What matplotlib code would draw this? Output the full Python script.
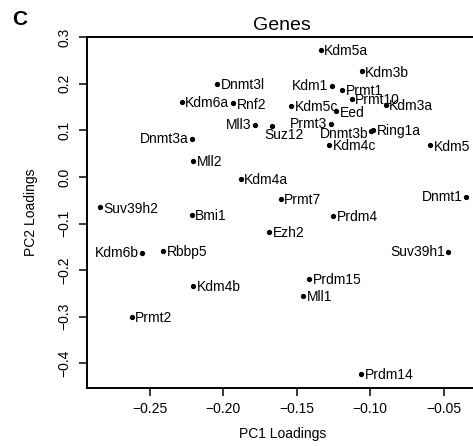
import numpy as np
import matplotlib
matplotlib.use("Agg")
import matplotlib.pyplot as plt

plt.rcParams['font.family'] = ['Liberation Sans', 'DejaVu Sans']

# PCA loadings
genes = ["Kdm5a", "Kdm3b", "Dnmt3l", "Kdm1", "Prmt1", "Prmt10", "Kdm6a", "Rnf2",
         "Kdm5c", "Eed", "Kdm3a", "Prmt3", "Mll3", "Suz12", "Dnmt3b", "Ring1a",
         "Dnmt3a", "Kdm4c", "Kdm5", "Mll2", "Kdm4a", "Dnmt1", "Suv39h2", "Prmt7",
         "Bmi1", "Prdm4", "Ezh2", "Suv39h1", "Kdm6b", "Rbbp5", "Kdm4b", "Prdm15",
         "Mll1", "Prmt2", "Prdm14"]
pc1 = [-0.1337, -0.1058, -0.2042, -0.1262, -0.1190, -0.1126, -0.2284, -0.1933,
       -0.1540, -0.1233, -0.0894, -0.1267, -0.1785, -0.1671, -0.0995, -0.0979,
       -0.2212, -0.1281, -0.0593, -0.2205, -0.1882, -0.0349, -0.2841, -0.1610,
       -0.2216, -0.1251, -0.1687, -0.0468, -0.2552, -0.2409, -0.2205, -0.1417,
       -0.1456, -0.2625, -0.1063]
pc2 = [0.2735, 0.2270, 0.2000, 0.1950, 0.1875, 0.1675, 0.1620, 0.1580,
       0.1530, 0.1410, 0.1550, 0.1140, 0.1110, 0.1090, 0.0990, 0.1015,
       0.0815, 0.0690, 0.0680, 0.0350, -0.0045, -0.0420, -0.0650, -0.0470,
       -0.0810, -0.0830, -0.1180, -0.1620, -0.1636, -0.1580, -0.2340, -0.2190,
       -0.2550, -0.3000, -0.4230]
# labels drawn on the left of their point
left_side = {"Kdm1", "Prmt3", "Mll3", "Dnmt3b", "Dnmt3a", "Dnmt1", "Suv39h1", "Kdm6b"}

fig = plt.figure(figsize=(4.73, 4.46), dpi=100)
ax = fig.add_axes([0.1833, 0.130, 0.8290, 0.7877])

ax.plot(pc1, pc2, 'o', color='black', ms=2.8, mec='black')
for g, x, y in zip(genes, pc1, pc2):
    if g == "Suz12":
        ax.annotate(g, (x, y), xytext=(-5, -6), textcoords='offset points',
                    ha='left', va='center', fontsize=10)
    elif g == "Dnmt3b":
        ax.annotate(g, (x, y), xytext=(-1.5, -2.5), textcoords='offset points',
                    ha='right', va='center', fontsize=10)
    elif g in left_side:
        ax.annotate(g, (x, y), xytext=(-2.5, 0), textcoords='offset points',
                    ha='right', va='center', fontsize=10)
    else:
        ax.annotate(g, (x, y), xytext=(2.5, -1), textcoords='offset points',
                    ha='left', va='center', fontsize=10)

ax.set_xlim(-0.2931, -0.0261)
ax.set_ylim(-0.4531, 0.3011)
ax.set_xticks([-0.25, -0.20, -0.15, -0.10, -0.05])
ax.set_xticklabels(["\u22120.25", "\u22120.20", "\u22120.15", "\u22120.10", "\u22120.05"])
ax.set_yticks([-0.4, -0.3, -0.2, -0.1, 0.0, 0.1, 0.2, 0.3])
ax.set_yticklabels(["\u22120.4", "\u22120.3", "\u22120.2", "\u22120.1", "0.0", "0.1", "0.2", "0.3"],
                   rotation=90, va='center')
ax.tick_params(axis='both', direction='out', length=6, width=1.1, labelsize=10, colors='black')
ax.tick_params(axis='x', pad=4)
ax.tick_params(axis='y', pad=5)
for s in ax.spines.values():
    s.set_linewidth(1.4)

ax.set_xlabel("PC1 Loadings", fontsize=10, labelpad=8)
ax.set_ylabel("PC2 Loadings", fontsize=10, labelpad=14)

fig.text(282 / 473, 1 - 25 / 446, "Genes", fontsize=14, ha='center', va='center')
fig.text(20 / 473, 1 - 19.5 / 446, "C", fontsize=15, fontweight='bold', ha='center', va='center')

fig.savefig("out.png", dpi=100)
